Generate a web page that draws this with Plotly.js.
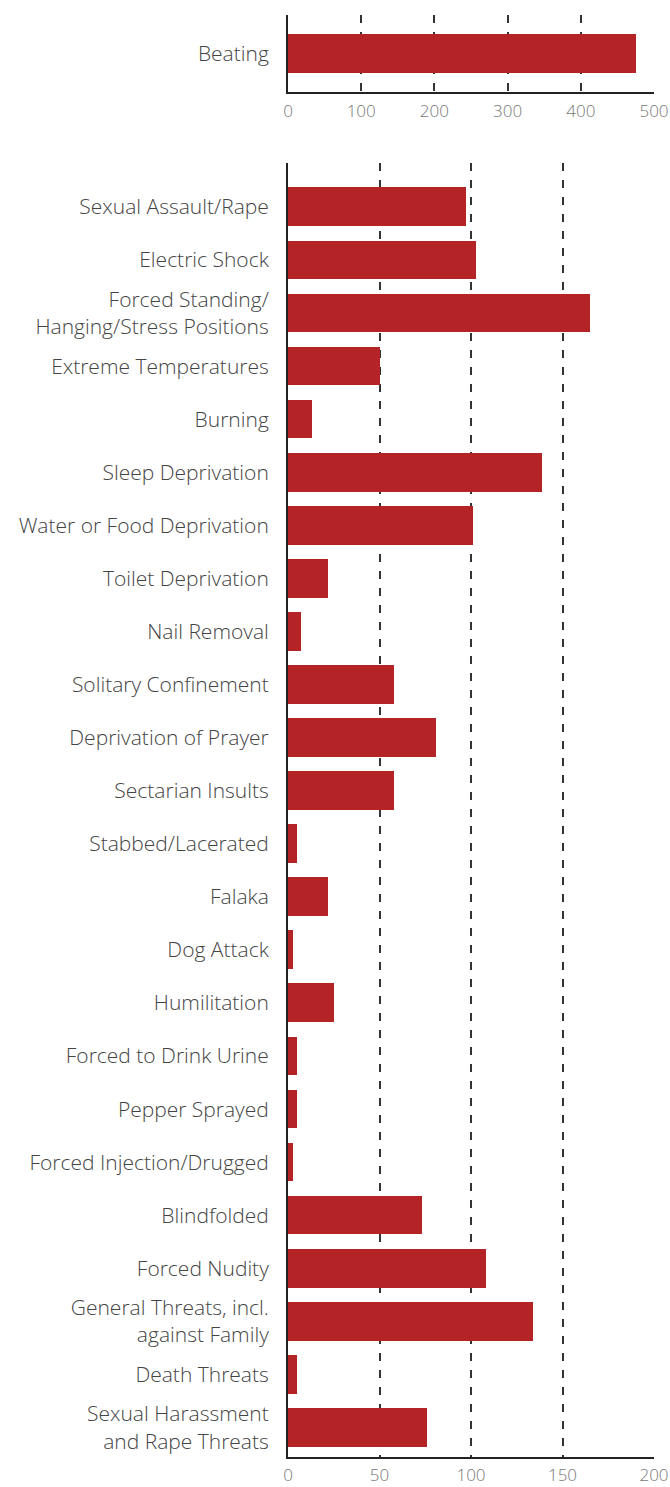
<!DOCTYPE html>
<html>
<head>
<meta charset="utf-8">
<script src="https://cdn.plot.ly/plotly-3.0.1.min.js"></script>
<style>
  html, body { margin: 0; padding: 0; background: #fff; }
  #chart { width: 670px; height: 1487px; }
</style>
</head>
<body>
<div id="chart"></div>
<script>
const topCategories = ['Beating'];
const topValues = [476];

const categories = [
  'Sexual Assault/Rape',
  'Electric Shock',
  'Forced Standing/<br>Hanging/Stress Positions',
  'Extreme Temperatures',
  'Burning',
  'Sleep Deprivation',
  'Water or Food Deprivation',
  'Toilet Deprivation',
  'Nail Removal',
  'Solitary Confinement',
  'Deprivation of Prayer',
  'Sectarian Insults',
  'Stabbed/Lacerated',
  'Falaka',
  'Dog Attack',
  'Humilitation',
  'Forced to Drink Urine',
  'Pepper Sprayed',
  'Forced Injection/Drugged',
  'Blindfolded',
  'Forced Nudity',
  'General Threats, incl.<br>against Family',
  'Death Threats',
  'Sexual Harassment<br>and Rape Threats'
];
const values = [97, 103, 165, 50, 13, 139, 101, 22, 7, 58, 81, 58, 5, 22, 3, 25, 5, 5, 3, 73, 108, 134, 5, 76];

const topTicks = [0, 100, 200, 300, 400, 500];
const bottomTicks = [0, 50, 100, 150, 200];

const barColor = '#b42326';
const fontFamily = '"Open Sans", Roboto, sans-serif';

const traces = [
  {
    type: 'bar', orientation: 'h',
    x: topValues, y: topCategories,
    xaxis: 'x', yaxis: 'y',
    marker: { color: barColor },
    width: 0.73,
    hoverinfo: 'x+y'
  },
  {
    type: 'bar', orientation: 'h',
    x: values, y: categories,
    xaxis: 'x2', yaxis: 'y2',
    marker: { color: barColor },
    width: 0.73,
    hoverinfo: 'x+y'
  }
];

const xCommon = {
  showline: true, linecolor: '#222', linewidth: 2,
  showgrid: true, gridcolor: '#333', gridwidth: 1.5, griddash: '8px,9px',
  zeroline: false, ticks: '', ticklabelstandoff: 2,
  tickfont: { family: fontFamily, size: 17, color: '#777', weight: 300 },
  fixedrange: true
};
const yCommon = {
  type: 'category',
  showline: true, linecolor: '#222', linewidth: 2,
  showgrid: false, zeroline: false, ticks: '',
  ticklabelstandoff: 13,
  tickfont: { family: fontFamily, size: 21, color: '#444', weight: 300 },
  fixedrange: true
};

const layout = {
  width: 670, height: 1487,
  margin: { l: 288, r: 16, t: 15, b: 30 },
  paper_bgcolor: '#fff', plot_bgcolor: '#fff',
  showlegend: false,
  bargap: 0,
  xaxis: Object.assign({}, xCommon, {
    anchor: 'y', domain: [0, 1],
    range: [0, 500], tickvals: topTicks
  }),
  yaxis: Object.assign({}, yCommon, {
    anchor: 'x', domain: [0.9464, 1],
    range: [0.736, -0.72]
  }),
  xaxis2: Object.assign({}, xCommon, {
    anchor: 'y2', domain: [0, 1],
    range: [0, 200], tickvals: bottomTicks
  }),
  yaxis2: Object.assign({}, yCommon, {
    anchor: 'x2', domain: [0, 0.8972],
    range: [23.554, -0.826]
  })
};

Plotly.newPlot('chart', traces, layout, { displayModeBar: false, responsive: false });
</script>
</body>
</html>
